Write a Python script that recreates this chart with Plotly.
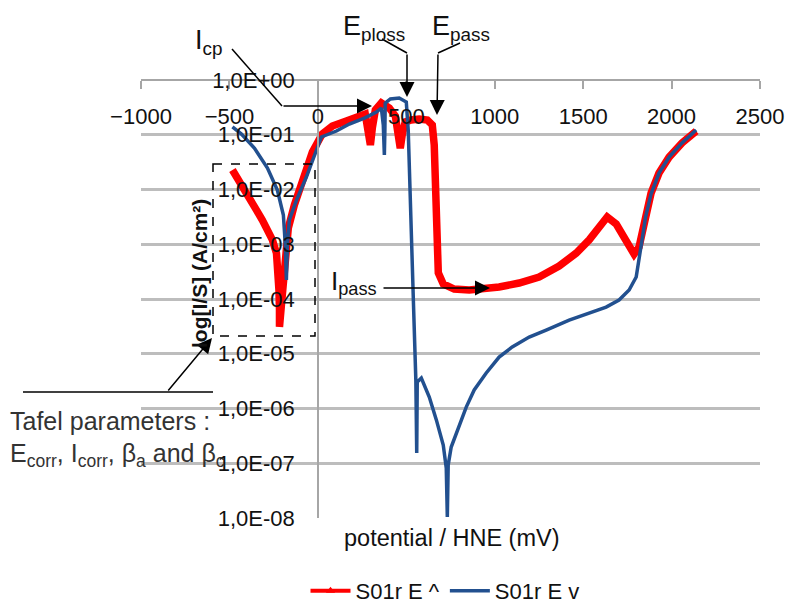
import plotly.graph_objects as go

# Forward (anodic) scan: potential in mV vs HNE, current density in A/cm²
fwd_potential = [-483, -432, -387, -347, -314, -280, -257, -234, -223, -220,
                 -217, -217, -206, -195, -184, -167, -133, -82, -31, 25,
                 82, 161, 234, 268, 285, 297, 308, 325, 359, 404,
                 438, 455, 466, 477, 494, 528, 573, 619, 647, 658,
                 664, 664, 670, 681, 709, 771, 856, 969, 1025, 1138,
                 1251, 1364, 1461, 1534, 1602, 1636, 1687, 1743, 1788, 1816,
                 1853, 1884, 1929, 1986, 2059, 2139]
fwd_current = [2.27e-2, 1.26e-2, 7.3e-3, 4.2e-3, 2.77e-3, 1.82e-3, 1.20e-3, 6.9e-4, 3.4e-4, 1.46e-4,
               6.3e-5, 3.1e-5, 7.8e-5, 2.2e-4, 6.4e-4, 1.98e-3, 5.2e-3, 1.62e-2, 4.84e-2, 0.103,
               0.144, 0.178, 0.211, 0.239, 0.112, 0.065, 0.133, 0.283, 0.380, 0.308,
               0.220, 0.080, 0.057, 0.099, 0.171, 0.186, 0.194, 0.186, 0.151, 0.065,
               1.49e-2, 2.77e-3, 6.4e-4, 3.0e-4, 1.88e-4, 1.52e-4, 1.46e-4, 1.52e-4, 1.66e-4, 1.96e-4,
               2.52e-4, 4.0e-4, 6.9e-4, 1.20e-3, 2.44e-3, 3.15e-3, 2.34e-3, 1.20e-3, 6.6e-4, 8.9e-4,
               3.15e-3, 8.6e-3, 2.0e-2, 3.9e-2, 7.1e-2, 0.117]

# Reverse scan, from the vertex potential back down
rev_potential = [2139, 2059, 1986, 1929, 1884, 1853, 1833, 1816, 1800, 1760,
                 1703, 1630, 1534, 1421, 1291, 1195, 1099, 1025, 952, 884,
                 839, 783, 754, 737, 732, 726, 709, 670, 630, 585,
                 562, 559, 554, 540, 523, 511, 500, 460, 410, 381,
                 379, 376, 370, 359, 331, 263, 178, 105, 20, -8,
                 -65, -121, -161, -172, -175, -178, -184, -195, -229, -285,
                 -359, -432, -483]
rev_current = [0.122, 7.1e-2, 3.9e-2, 2.0e-2, 8.3e-3, 3.15e-3, 1.2e-3, 5.6e-4, 2.52e-4, 1.46e-4,
               9.6e-5, 7.1e-5, 5.5e-5, 4.1e-5, 2.7e-5, 2.02e-5, 1.33e-5, 8.7e-6, 4.45e-6, 2.18e-6,
               1.06e-6, 3.57e-7, 1.98e-7, 9.3e-8, 1.04e-8, 8.2e-8, 2.15e-7, 6.2e-7, 1.62e-6, 3.6e-6,
               3.05e-6, 1.54e-7, 3.3e-6, 9.6e-5, 6.4e-3, 0.122, 0.396, 0.469, 0.450, 0.380,
               0.122, 4.27e-2, 0.151, 0.308, 0.260, 0.202, 0.157, 0.117, 9.1e-2, 5.3e-2,
               1.69e-2, 6.4e-3, 2.77e-3, 1.05e-3, 4.7e-4, 2.22e-4, 9.7e-4, 3.42e-3, 9.8e-3, 2.47e-2,
               5.7e-2, 0.103, 0.139]

x_range = [-1000, 2500]
x_tickvals = [-1000, -500, 0, 500, 1000, 1500, 2000, 2500]
y_tickvals = [1e0, 1e-1, 1e-2, 1e-3, 1e-4, 1e-5, 1e-6, 1e-7, 1e-8]
y_ticktext = ["1,0E+00", "1,0E-01", "1,0E-02", "1,0E-03", "1,0E-04",
              "1,0E-05", "1,0E-06", "1,0E-07", "1,0E-08"]

series_names = ["S01r E ^", "S01r E v"]
RED = "#ff0000"
BLUE = "#22508f"
FONT = "Liberation Sans, Arial, sans-serif"

W, H = 788, 605
ML, MR, MT, MB = 141, 28, 80, 87
PW, PH = W - ML - MR, H - MT - MB


def paper(px, py):
    """Layout pixel position -> paper coordinates of the plotting area."""
    return (px - ML) / PW, (H - MB - py) / PH


fig = go.Figure()

# legend entry for the forward scan (line with triangle marker)
fig.add_trace(go.Scatter(
    x=[None], y=[None], mode="lines+markers", name=series_names[0],
    legendgroup="fwd",
    line=dict(color=RED, width=4),
    marker=dict(symbol="triangle-up", size=8, color=RED),
))
fig.add_trace(go.Scatter(
    x=fwd_potential, y=fwd_current, mode="lines", name=series_names[0],
    legendgroup="fwd", showlegend=False,
    line=dict(color=RED, width=7.5),
))
fig.add_trace(go.Scatter(
    x=rev_potential, y=rev_current, mode="lines", name=series_names[1],
    line=dict(color=BLUE, width=3.5),
))

shapes = []
annotations = []


def seg(p0, p1, dash="solid", width=1.5):
    x0, y0 = paper(*p0)
    x1, y1 = paper(*p1)
    shapes.append(dict(type="line", xref="paper", yref="paper",
                       x0=x0, y0=y0, x1=x1, y1=y1,
                       line=dict(color="black", width=width, dash=dash)))


def arrow(tail, tip):
    x, y = paper(*tip)
    annotations.append(dict(
        xref="paper", yref="paper", x=x, y=y, text="",
        showarrow=True, ax=tail[0] - tip[0], ay=tail[1] - tip[1],
        arrowhead=2, arrowsize=2.0, arrowwidth=1.5, arrowcolor="black",
        standoff=0,
    ))


def label(text, pos, size=27, xanchor="left", color="#111111", angle=0, bold=False):
    x, y = paper(*pos)
    if bold:
        text = "<b>" + text + "</b>"
    annotations.append(dict(
        xref="paper", yref="paper", x=x, y=y, text=text, showarrow=False,
        xanchor=xanchor, yanchor="middle", textangle=angle,
        font=dict(family=FONT, size=size, color=color),
    ))


# I_cp : critical current
label("I<sub>cp</sub>", (193, 42))
seg((232, 49), (282, 106))
arrow((282, 106), (372, 106))

# E_ploss
label("E<sub>ploss</sub>", (341, 28))
seg((382, 39), (407, 53))
arrow((407, 53), (407, 97))

# E_pass
label("E<sub>pass</sub>", (430, 28))
seg((460, 43), (438, 53))
arrow((438, 53), (437, 115))

# I_pass
label("I<sub>pass</sub>", (329, 282), size=26)
arrow((382, 288), (490, 288))

# Tafel region
x0, y0 = paper(213, 164)
x1, y1 = paper(315, 336)
shapes.append(dict(type="rect", xref="paper", yref="paper",
                   x0=x0, y0=y0, x1=x1, y1=y1,
                   line=dict(color="black", width=1.5, dash="dash")))
seg((23, 392), (213, 392))
arrow((167, 392), (212, 338))
label("Tafel parameters :", (8, 421), size=25, color="#333333")
label("E<sub>corr</sub>, I<sub>corr</sub>, β<sub>a</sub> and β<sub>c</sub>",
      (8, 455), size=25, color="#333333")

# axis titles
label("potential / HNE (mV)", (451, 538), size=23.5, xanchor="center")
label("log[I/S] (A/cm²)", (199, 274), size=21, xanchor="center", angle=-90, bold=True)

fig.update_layout(
    width=W, height=H,
    margin=dict(l=ML, r=MR, t=MT, b=MB, autoexpand=False),
    paper_bgcolor="white", plot_bgcolor="white",
    font=dict(family=FONT, size=22, color="#111111"),
    shapes=shapes, annotations=annotations,
    showlegend=True,
    legend=dict(orientation="h", x=paper(445, 0)[0], xanchor="center",
                y=paper(0, 591)[1], yanchor="middle",
                font=dict(family=FONT, size=22, color="#111111"),
                bgcolor="rgba(0,0,0,0)", itemwidth=40),
    xaxis=dict(
        range=x_range, anchor="free", position=1, side="bottom",
        showline=True, linecolor="#a6a6a6", linewidth=1.5,
        ticks="outside", ticklen=8, tickwidth=1.5, tickcolor="#a6a6a6",
        tickvals=x_tickvals, ticklabelstandoff=9,
        tickfont=dict(family=FONT, size=22, color="#111111"),
        showgrid=False, zeroline=False, automargin=False,
    ),
    yaxis=dict(
        type="log", range=[-8, 0], anchor="free",
        position=(0 - x_range[0]) / (x_range[1] - x_range[0]), side="left",
        showline=True, linecolor="#a6a6a6", linewidth=1.5,
        ticks="", tickvals=y_tickvals, ticktext=y_ticktext, ticklabelstandoff=18,
        tickfont=dict(family=FONT, size=22, color="#111111"),
        showgrid=True, gridcolor="#bdbdbd", gridwidth=2.5,
        zeroline=False, automargin=False,
    ),
)

fig.write_html("out.html")
